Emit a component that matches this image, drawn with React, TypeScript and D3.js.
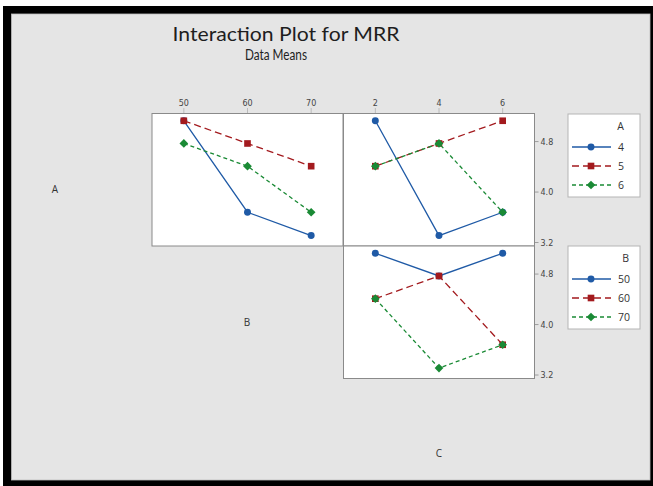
import React from "react";
import * as d3 from "d3";

// ---- data (means of MRR) ----
const levelsA = ["4", "5", "6"];
const levelsB = ["50", "60", "70"];
const levelsC = ["2", "4", "6"];

// Panel A x B : one line per level of A, x = B
const abA4 = [5.13, 3.68, 3.31];
const abA5 = [5.13, 4.77, 4.41];
const abA6 = [4.77, 4.41, 3.68];
// Panel A x C : one line per level of A, x = C
const acA4 = [5.13, 3.31, 3.68];
const acA5 = [4.41, 4.77, 5.13];
const acA6 = [4.41, 4.77, 3.68];
// Panel B x C : one line per level of B, x = C
const bcB50 = [5.13, 4.77, 5.13];
const bcB60 = [4.41, 4.77, 3.68];
const bcB70 = [4.41, 3.31, 3.68];

const yTicks = [3.2, 4.0, 4.8];

const W = 653;
const H = 486;

const COLORS = ["#1f5aa6", "#a31a1e", "#1a8a35"];
const DASHES = ["none", "7,4", "4,3"];
const SYMS = [d3.symbolCircle, d3.symbolSquare, d3.symbolSquare];
const SYM_SIZE = [38, 44, 38];
const SYM_ROT = [0, 0, 45];

const colX = [152, 343.5];
const colW = 191;
const rowY = [113.5, 246];
const rowH = 132.5;

function Marker({ k, x, y }: { k: number; x: number; y: number }) {
  return (
    <path
      transform={`translate(${x},${y}) rotate(${SYM_ROT[k]})`}
      d={d3.symbol().type(SYMS[k]).size(SYM_SIZE[k])() || ""}
      fill={COLORS[k]}
    />
  );
}

function Panel({ x0, y0, cats, series }: { x0: number; y0: number; cats: string[]; series: number[][] }) {
  const xs = d3.scalePoint<string>().domain(cats).range([x0, x0 + colW]).padding(0.5);
  const ys = d3.scaleLinear().domain([3.145, 5.245]).range([y0 + rowH, y0]);
  const line = d3
    .line<number>()
    .x((_, i) => xs(cats[i]) as number)
    .y((d) => ys(d));
  return (
    <g>
      <rect x={x0} y={y0} width={colW} height={rowH} fill="#ffffff" stroke="#8a8a8a" strokeWidth={1} />
      {series.map((s, k) => (
        <g key={k}>
          <path d={line(s) || ""} fill="none" stroke={COLORS[k]} strokeWidth={1.3} strokeDasharray={DASHES[k]} />
          {s.map((v, i) => (
            <Marker key={i} k={k} x={xs(cats[i]) as number} y={ys(v)} />
          ))}
        </g>
      ))}
    </g>
  );
}

function Legend({ x, y, title, labels }: { x: number; y: number; title: string; labels: string[] }) {
  const titleEnd = x + (labels[0].length > 1 ? 61 : 56);
  return (
    <g>
      <rect x={x} y={y} width={72} height={83} fill="#ffffff" stroke="#b5b5b5" strokeWidth={1} />
      <text x={titleEnd} y={y + 16} textAnchor="end" fontSize={10.5} fill="#333" fontFamily="'Open Sans', sans-serif">
        {title}
      </text>
      {labels.map((lab, k) => {
        const ly = y + 33 + k * 19;
        return (
          <g key={k}>
            <line x1={x + 4} x2={x + 43} y1={ly} y2={ly} stroke={COLORS[k]} strokeWidth={1.3} strokeDasharray={DASHES[k]} />
            <Marker k={k} x={x + 23} y={ly} />
            <text x={x + 50} y={ly + 4} fontSize={10.5} fill="#333" fontFamily="'Open Sans', sans-serif">
              {lab}
            </text>
          </g>
        );
      })}
    </g>
  );
}

export default function App() {
  const xsB = d3.scalePoint<string>().domain(levelsB).range([colX[0], colX[0] + colW]).padding(0.5);
  const xsC = d3.scalePoint<string>().domain(levelsC).range([colX[1], colX[1] + colW]).padding(0.5);
  const ys1 = d3.scaleLinear().domain([3.145, 5.245]).range([rowY[0] + rowH, rowY[0]]);
  const ys2 = d3.scaleLinear().domain([3.145, 5.245]).range([rowY[1] + rowH, rowY[1]]);
  const rightX = colX[1] + colW;
  const fmt = d3.format(".1f");
  const tickFont = "'DejaVu Sans', sans-serif";

  return (
    <svg width={W} height={H} style={{ position: "absolute", left: 0, top: 0 }} xmlns="http://www.w3.org/2000/svg">
      <rect x={0} y={0} width={W} height={H} fill="#ffffff" />
      <rect x={3} y={6} width={W - 3} height={H - 6} fill="#000000" />
      <rect x={11.5} y={14} width={638.5} height={466} fill="#e5e5e5" stroke="#bdbdbd" strokeWidth={0.8} />

      <text x={286} y={41} textAnchor="middle" fontSize={20} fill="#1e1e1e" fontFamily="Lato, sans-serif" textLength={227} lengthAdjust="spacingAndGlyphs">
        Interaction Plot for MRR
      </text>
      <text x={276} y={59.5} textAnchor="middle" fontSize={14.5} fill="#1e1e1e" fontFamily="Lato, sans-serif" textLength={62} lengthAdjust="spacingAndGlyphs">
        Data Means
      </text>

      {/* top x tick labels */}
      {levelsB.map((c) => (
        <g key={"b" + c}>
          <line x1={xsB(c)} x2={xsB(c)} y1={108} y2={113.5} stroke="#b0b0b0" strokeWidth={0.8} />
          <text x={xsB(c)} y={106} textAnchor="middle" fontSize={8} fill="#444" fontFamily={tickFont}>
            {c}
          </text>
        </g>
      ))}
      {levelsC.map((c) => (
        <g key={"c" + c}>
          <line x1={xsC(c)} x2={xsC(c)} y1={108} y2={113.5} stroke="#b0b0b0" strokeWidth={0.8} />
          <text x={xsC(c)} y={106} textAnchor="middle" fontSize={8} fill="#444" fontFamily={tickFont}>
            {c}
          </text>
        </g>
      ))}

      <Panel x0={colX[0]} y0={rowY[0]} cats={levelsB} series={[abA4, abA5, abA6]} />
      <Panel x0={colX[1]} y0={rowY[0]} cats={levelsC} series={[acA4, acA5, acA6]} />
      <Panel x0={colX[1]} y0={rowY[1]} cats={levelsC} series={[bcB50, bcB60, bcB70]} />

      {/* right y tick labels */}
      {[ys1, ys2].map((ys, r) =>
        yTicks.map((t) => (
          <g key={r + "-" + t}>
            <line x1={rightX} x2={rightX + 4} y1={ys(t)} y2={ys(t)} stroke="#8a8a8a" strokeWidth={0.8} />
            <text x={rightX + 6} y={ys(t) + 3} fontSize={8} fill="#444" fontFamily={tickFont}>
              {fmt(t)}
            </text>
          </g>
        ))
      )}

      <Legend x={568} y={114} title="A" labels={levelsA} />
      <Legend x={568} y={246} title="B" labels={levelsB} />

      {/* factor labels */}
      <text x={55} y={193} textAnchor="middle" fontSize={10} fill="#333" fontFamily="'Open Sans', sans-serif">A</text>
      <text x={247} y={326} textAnchor="middle" fontSize={10} fill="#333" fontFamily="'Open Sans', sans-serif">B</text>
      <text x={439} y={457} textAnchor="middle" fontSize={10} fill="#333" fontFamily="'Open Sans', sans-serif">C</text>
    </svg>
  );
}
